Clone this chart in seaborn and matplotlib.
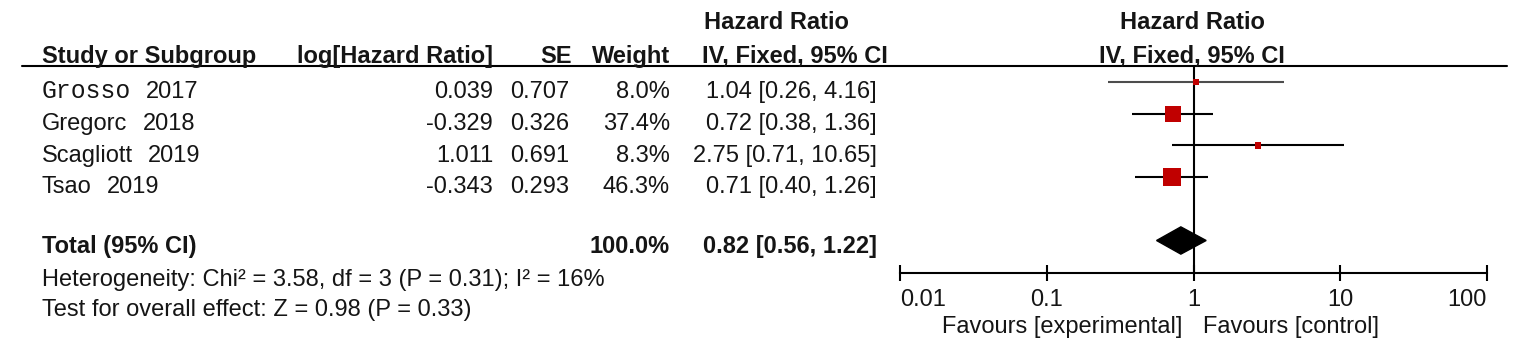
import numpy as np
import pandas as pd
import matplotlib
matplotlib.use("Agg")
import matplotlib.pyplot as plt
from matplotlib.lines import Line2D
import seaborn as sns

# ---------------- data ----------------
studies = ["Grosso", "Gregorc", "Scagliott", "Tsao"]
years = ["2017", "2018", "2019", "2019"]
log_hr = [0.039, -0.329, 1.011, -0.343]
se = [0.707, 0.326, 0.691, 0.293]
weight = [8.0, 37.4, 8.3, 46.3]
hr = [1.04, 0.72, 2.75, 0.71]
ci_lo = [0.26, 0.38, 0.71, 0.40]
ci_hi = [4.16, 1.36, 10.65, 1.26]
total_label = "Total (95% CI)"
total_weight = 100.0
total_hr = 0.82
total_lo = 0.56
total_hi = 1.22
heterogeneity = "Heterogeneity: Chi² = 3.58, df = 3 (P = 0.31); I² = 16%"
overall = "Test for overall effect: Z = 0.98 (P = 0.33)"
axis_ticks = [0.01, 0.1, 1, 10, 100]
axis_tick_labels = ["0.01", "0.1", "1", "10", "100"]
favours_left = "Favours [experimental]"
favours_right = "Favours [control]"
col_headers = ["Study or Subgroup", "log[Hazard Ratio]", "SE", "Weight", "IV, Fixed, 95% CI"]
group_header = "Hazard Ratio"

# ---------------- style ----------------
sns.set_theme(style="white")
plt.rcParams["font.family"] = ["Liberation Sans", "DejaVu Sans"]
TXT = "#151515"
FS = 17

W, H = 1535, 361
fig = plt.figure(figsize=(W / 100, H / 100), dpi=100)
fig.patch.set_facecolor("white")


def fx(x):
    return x / W


def fy(y):
    return 1 - y / H


def put(x, y, s, ha="left", bold=False, **kw):
    return fig.text(fx(x), fy(y), s, ha=ha, va="baseline", fontsize=kw.pop("fontsize", FS),
                    fontweight="bold" if bold else "normal", color=kw.pop("color", TXT), **kw)


# ---------------- forest axes ----------------
ax_left, ax_right = 900, 1487
ax_top, ax_bot = 66, 273
ax = fig.add_axes([fx(ax_left), fy(ax_bot), fx(ax_right - ax_left), (ax_bot - ax_top) / H])
ax.set_facecolor("none")

rows = np.arange(len(studies))
total_row = len(studies) + 1
df = pd.DataFrame({"study": studies, "hr": hr, "lo": ci_lo, "hi": ci_hi,
                   "weight": weight, "row": rows})

ax.set_xscale("log")
ax.set_xlim(axis_ticks[0], axis_ticks[-1])
row_px = 31.7
first_px = 82
ax.set_ylim((ax_bot - first_px) / row_px, (ax_top - first_px) / row_px)

ax.axvline(1, color="black", lw=1.5, zorder=1)
line_colors = ["#4d4d4d", "black", "black", "black"]
ax.hlines(df["row"], df["lo"], df["hi"], colors=line_colors, lw=1.5, zorder=2)
sns.scatterplot(data=df, x="hr", y="row", size="weight", sizes=(19, 169), marker="s",
                color="#C00000", edgecolor="none", linewidth=0, legend=False, ax=ax, zorder=3)

dh = 0.43
ax.fill([total_lo, total_hr, total_hi, total_hr],
        [total_row, total_row - dh, total_row, total_row + dh], color="black", zorder=3)

for s in ["left", "right", "top"]:
    ax.spines[s].set_visible(False)
ax.spines["bottom"].set_color("black")
ax.spines["bottom"].set_linewidth(1.5)
ax.set_yticks([])
ax.set_xticks(axis_ticks, axis_tick_labels)
ax.xaxis.set_minor_locator(matplotlib.ticker.NullLocator())
ax.tick_params(axis="x", which="major", direction="inout", length=11, width=1.5,
               color="black", labelsize=FS, labelcolor=TXT, pad=6, bottom=True)
ax.set_xlabel("")
ax.set_ylabel("")
ticks = ax.xaxis.get_major_ticks()
ticks[0].label1.set_horizontalalignment("left")
ticks[-1].label1.set_horizontalalignment("right")

# ---------------- table ----------------
fig.add_artist(Line2D([fx(22), fx(1507)], [fy(66), fy(66)], color="black", lw=1.5))

put(776, 29, group_header, ha="center", bold=True)
put(1192, 29, group_header, ha="center", bold=True)
put(42, 63, col_headers[0], bold=True)
put(493, 63, col_headers[1], ha="right", bold=True)
put(572, 63, col_headers[2], ha="right", bold=True)
put(670, 63, col_headers[3], ha="right", bold=True)
put(795, 63, col_headers[4], ha="center", bold=True)
put(1192, 63, col_headers[4], ha="center", bold=True)

fig.canvas.draw()
renderer = fig.canvas.get_renderer()
row_base = [98, 130, 162, 193]
for i, name in enumerate(studies):
    if i == 0:
        t = put(42, row_base[i], name, family=["Liberation Mono", "DejaVu Sans Mono"], fontsize=17.8)
    else:
        t = put(42, row_base[i], name)
    bb = t.get_window_extent(renderer)
    put(bb.x1 + 15, row_base[i], years[i])
    put(493, row_base[i], f"{log_hr[i]:.3f}", ha="right")
    put(569, row_base[i], f"{se[i]:.3f}", ha="right")
    put(670, row_base[i], f"{weight[i]:.1f}%", ha="right")
    put(877, row_base[i], f"{hr[i]:.2f} [{ci_lo[i]:.2f}, {ci_hi[i]:.2f}]", ha="right")

put(42, 253, total_label, bold=True)
put(670, 253, f"{total_weight:.1f}%", ha="right", bold=True)
put(877, 253, f"{total_hr:.2f} [{total_lo:.2f}, {total_hi:.2f}]", ha="right", bold=True)
put(42, 286, heterogeneity)
put(42, 316, overall)

put(1182, 333, favours_left, ha="right")
put(1203, 333, favours_right, ha="left")

fig.savefig("out.png", dpi=100, facecolor="white")
